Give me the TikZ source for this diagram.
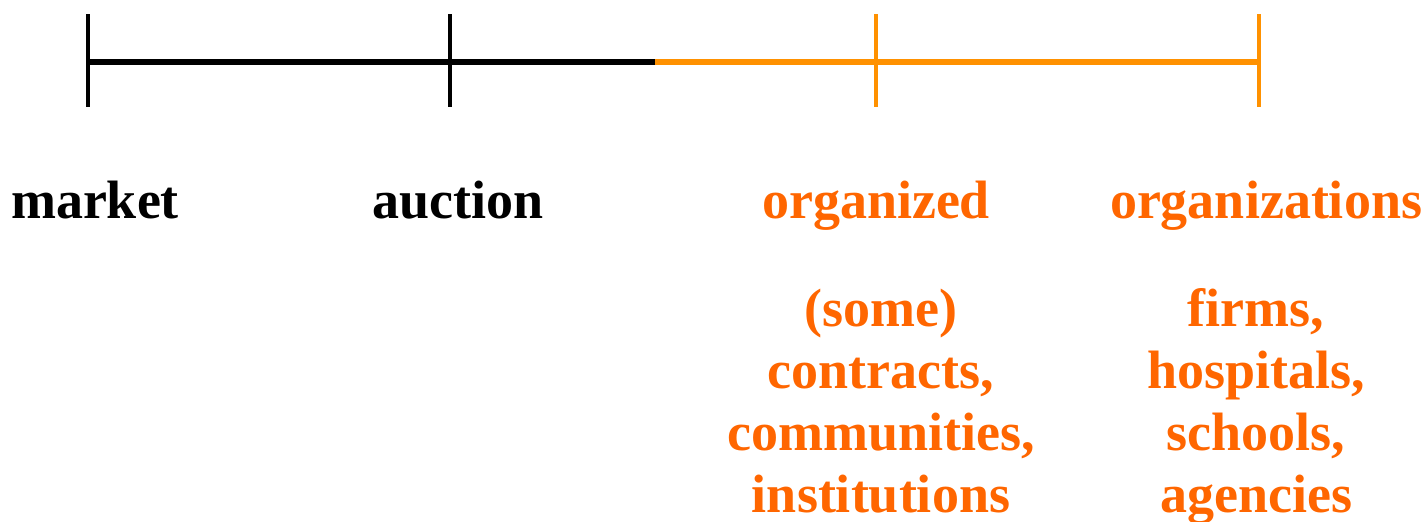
\documentclass[tikz,border=0pt]{standalone}
\usepackage{fontspec}
\setmainfont{Liberation Serif}
\usepackage{tikz}
\usetikzlibrary{positioning}

\definecolor{lineorange}{RGB}{255,145,0}
\definecolor{textorange}{RGB}{255,102,0}

\tikzset{
	tick/.style={line width=2.3pt},
	axis/.style={line width=2.8pt},
	lbl/.style={anchor=base, inner sep=0pt, font=\fontsize{27}{31}\selectfont\bfseries},
	sub/.style={lbl, align=center}
}

\begin{document}
\begin{tikzpicture}[x=0.5pt, y=-0.5pt]
					\useasboundingbox (0,0) rectangle (1427,521);
					
					% positions on the scale
					\coordinate (market) at (88,62);
					\coordinate (auction) at (450,62);
					\coordinate (split) at (655,62);
					\coordinate (organized) at (876,62);
					\coordinate (organizations) at (1259,62);
					
					% black part
					\draw [axis] (market) -- (split);
					\foreach \p in {market, auction}
						\draw [tick] ([yshift=24pt]\p) -- ([yshift=-22.5pt]\p);
					
					% orange part
					\draw [axis, lineorange] (split) -- (organizations);
					\foreach \p in {organized, organizations}
						\draw [tick, lineorange] ([yshift=24pt]\p) -- ([yshift=-22.5pt]\p);
					
					% labels
					\node (Lmarket) [lbl] at (95,218) {market};
					\node (Lauction) [lbl] at (458,218) {auction};
					\node (Lorganized) [lbl, textorange] at (876,218) {organized};
					\node (Lorganizations) [lbl, textorange] at (1266,218) {organizations};
					
					% examples under the orange labels (base = last line)
					\node (Eorganized) [sub, textorange] at (881,512)
						{(some)\\ contracts,\\ communities,\\ institutions};
					\node (Eorganizations) [sub, textorange] at (1256,512)
						{firms,\\ hospitals,\\ schools,\\ agencies};
				\end{tikzpicture}
\end{document}
